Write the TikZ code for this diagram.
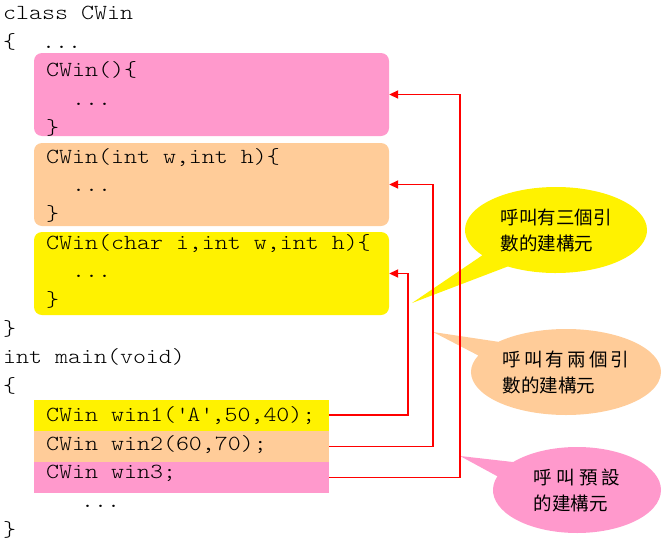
\documentclass[tikz,border=0pt]{standalone}
\usepackage{fontspec}
\usetikzlibrary{shapes.callouts,arrows.meta}
\newfontfamily\codefont[FakeStretch=1.15]{lmmonolt10-regular.otf}
\newfontfamily\cjk{Noto Sans CJK TC}
\definecolor{cpink}{RGB}{255,153,204}
\definecolor{corange}{RGB}{255,204,153}

\begin{document}
\begin{tikzpicture}[x=1pt,y=-1pt,
	src/.style={anchor=base west,inner sep=0pt,font=\codefont\fontsize{21.5}{26}\selectfont},
	ctor/.style={rounded corners=8pt,minimum width=355pt,minimum height=83pt,inner sep=0pt},
	call/.style={minimum width=295pt,minimum height=31pt,inner sep=0pt},
	link/.style={red,line width=1.8pt,-{Triangle[length=9pt,width=8pt]}},
	note/.style={ellipse callout,callout pointer arc=22,minimum height=86pt,align=left,inner sep=0pt,font=\cjk\fontsize{18.5}{26}\selectfont}]

\useasboundingbox (0,0) rectangle (666,546);

% constructors
\node [ctor,fill=cpink] (ctor0) at (211.5,94.5) {};
\node [ctor,fill=corange] (ctor2) at (211.5,184.5) {};
\node [ctor,fill=yellow] (ctor3) at (211.5,273.5) {};

% calls in main
\node [call,fill=yellow] (win1) at (181.5,415) {};
\node [call,fill=corange] (win2) at (181.5,446.5) {};
\node [call,fill=cpink] (win3) at (181.5,477.5) {};

\foreach \x/\k/\t in {3/0/{class CWin}, 3/1/{\{\ \ ...}, 46/2/{CWin()\{}, 46/3/{\ \ ...}, 46/4/{\}},
	46/5/{CWin(int w,int h)\{}, 46/6/{\ \ ...}, 46/7/{\}},
	46/8/{CWin(char i,int w,int h)\{}, 46/9/{\ \ ...}, 46/10/{\}}, 3/11/{\}},
	3/12/{int main(void)}, 3/13/{\{}, 46/14/{CWin win1(\textquotesingle A\textquotesingle,50,40);},
	46/15/{CWin win2(60,70);}, 46/16/{CWin win3;}, 3/17/{\ \ \ \ \ \ ...}, 3/18/{\}}} {
	\node [src] (l\k) at (\x,19.5+28.7*\k) {\t};
}

\node [note,fill=yellow,minimum width=182pt,callout absolute pointer={(412,303)}] (n3) at (556,230) {呼叫有三個引\\數的建構元};
\node [note,fill=corange,minimum width=190pt,callout absolute pointer={(433,332)}] (n2) at (566,372) {呼\,叫\,有\,兩\,個\,引\\數的建構元};
\node [note,fill=cpink,minimum width=168pt,callout absolute pointer={(460,456)}] (n0) at (577,490) {呼 叫 預 設\\的建構元};

\draw [link] (win1.east) -- ++(79,0) |- (ctor3.east);
\draw [link] (win2.east) -- ++(104,0) |- (ctor2.east);
\draw [link] (win3.east) -- ++(131,0) |- (ctor0.east);

\end{tikzpicture}
\end{document}
